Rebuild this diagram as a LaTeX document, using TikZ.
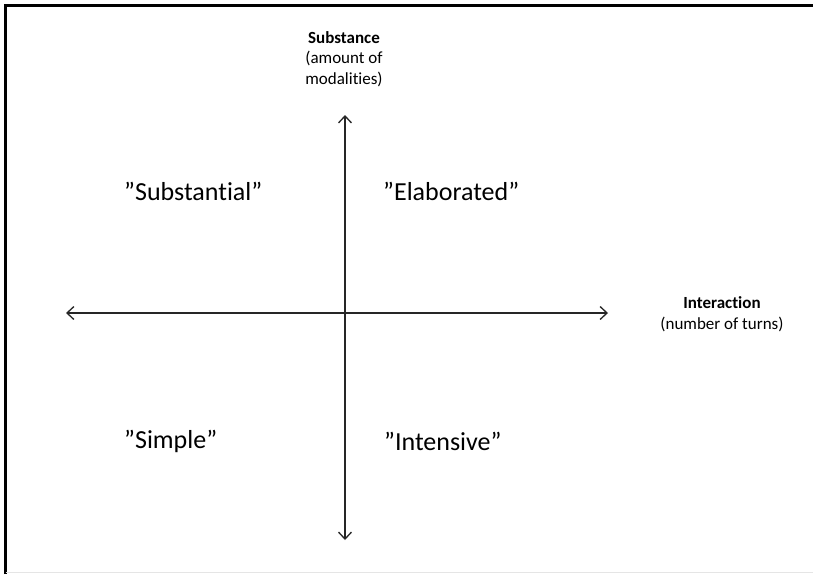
\documentclass[tikz,border=0pt]{standalone}
\usepackage{fontspec}
\setmainfont{Carlito}[Ligatures={NoCommon}]
\usetikzlibrary{arrows.meta}
\begin{document}
\begin{tikzpicture}[x=1pt,y=-1pt,
  axis/.style={line width=1.3pt,draw=black!85,{Straight Barb[length=7pt,width=13pt,line width=1.3pt]}-{Straight Barb[length=7pt,width=13pt,line width=1.3pt]}},
  quad/.style={font=\fontsize{26}{30}\selectfont,anchor=west,inner sep=0pt},
  axlabel/.style={font=\fontsize{17}{20.5}\selectfont,align=center,inner sep=0pt}]
\useasboundingbox (0,0) rectangle (813,574);
\fill[white] (0,0) rectangle (813,574);
% frame
\draw[line width=3pt] (5.5,574) -- (5.5,5) -- (813,5);
\draw[line width=1pt,black!10] (5.5,572.5) -- (813,572.5);
% axes
\coordinate (top) at (345,115);
\coordinate (bottom) at (345,540);
\coordinate (left) at (66,313);
\coordinate (right) at (608,313);
\draw[axis] (bottom) -- (top);
\draw[axis] (left) -- (right);
% axis labels
\node[axlabel] (subst) at (344,59) {\textbf{Substance}\\(amount of\\modalities)};
\node[axlabel] (inter) at (722,314) {\textbf{Interaction}\\(number of turns)};
% quadrant labels
\node[quad] (substantial) at (124,191) {”Substantial”};
\node[quad] (elaborated) at (383,191) {”Elaborated”};
\node[quad] (simple) at (124,441) {”Simple”};
\node[quad] (intensive) at (384,441) {”Intensive”};
\end{tikzpicture}
\end{document}
